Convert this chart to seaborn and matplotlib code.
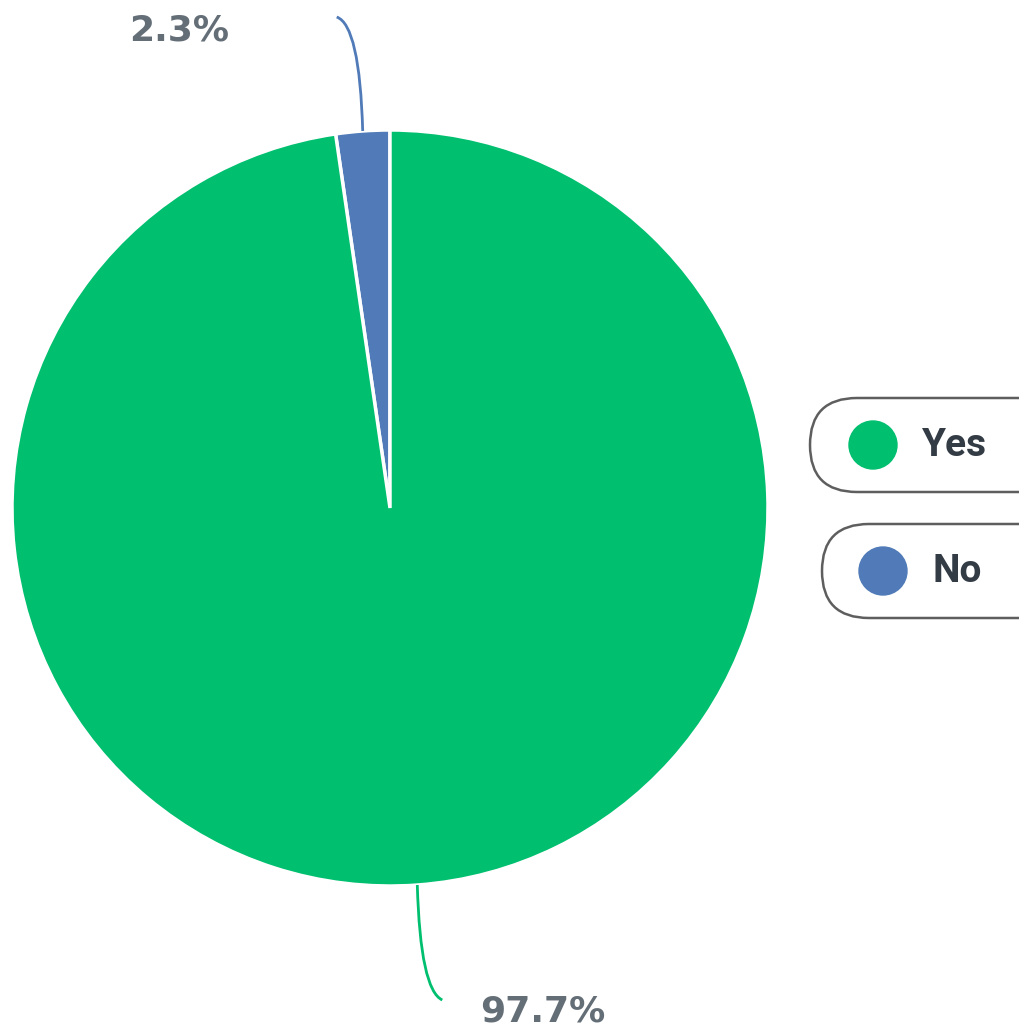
import matplotlib
matplotlib.use("Agg")
import matplotlib.pyplot as plt
from matplotlib.patches import FancyBboxPatch, PathPatch
from matplotlib.path import Path
import numpy as np
import seaborn as sns

categories = ["No", "Yes"]
values = [2.3, 97.7]
labels = ["2.3%", "97.7%"]
legend_order = ["Yes", "No"]

sns.set_theme(style="white")
plt.rcParams['font.family'] = ['Roboto', 'DejaVu Sans']
palette = {"Yes": "#00BF6F", "No": "#507BB8"}

W, H = 1020, 1030
fig = plt.figure(figsize=(W / 100, H / 100), dpi=100)
ax = fig.add_axes([0, 0, 1, 1])

cx, cy, R = 390, H - 508, 378
wedges, _ = ax.pie(values, colors=[palette[c] for c in categories], startangle=90,
                   counterclock=True, center=(cx, cy), radius=R, frame=True,
                   wedgeprops=dict(edgecolor="white", linewidth=2.5))
ax.set_xlim(0, W)
ax.set_ylim(0, H)
ax.axis("off")
ax.set_aspect("equal")

# leader lines and labels
txt_col = "#646E77"
angles = []
start = 90
for v in values:
    ang = start + v / 100 * 360 / 2
    angles.append(ang)
    start += v / 100 * 360

for i, cat in enumerate(categories):
    a = np.deg2rad(angles[i])
    x0, y0 = cx + R * np.cos(a), cy + R * np.sin(a)
    if y0 > cy:
        ctrl = (x0 - 3, H - 25)
        end = (x0 - 26, H - 17)
        tpos = (179, H - 30)
    else:
        ctrl = (x0 + 3, H - 990)
        end = (x0 + 25, H - 1000)
        tpos = (543, H - 1012)
    path = Path([(x0, y0), ctrl, end], [Path.MOVETO, Path.CURVE3, Path.CURVE3])
    ax.add_patch(PathPatch(path, fc="none", ec=palette[cat], lw=2))
    ax.text(tpos[0], tpos[1], labels[i], ha="center", va="center",
            fontsize=26, fontweight="bold", color=txt_col, family="DejaVu Sans")

# legend pills
pills = {"Yes": (810, 398, 873, 922), "No": (822, 524, 883, 933)}
for cat in legend_order:
    x0, ytop, ccx, tx = pills[cat]
    h = 94
    box = FancyBboxPatch((x0, H - ytop - h), 300, h,
                         boxstyle="round,pad=0,rounding_size=47",
                         fc="white", ec="#5E5E5E", lw=1.8)
    ax.add_patch(box)
    ymid = H - ytop - h / 2
    ax.add_patch(plt.Circle((ccx, ymid), 24, color=palette[cat]))
    ax.text(tx, ymid, cat, ha="left", va="center", fontsize=28,
            fontweight="bold", color="#333B45")

fig.savefig("out.png", dpi=100)
